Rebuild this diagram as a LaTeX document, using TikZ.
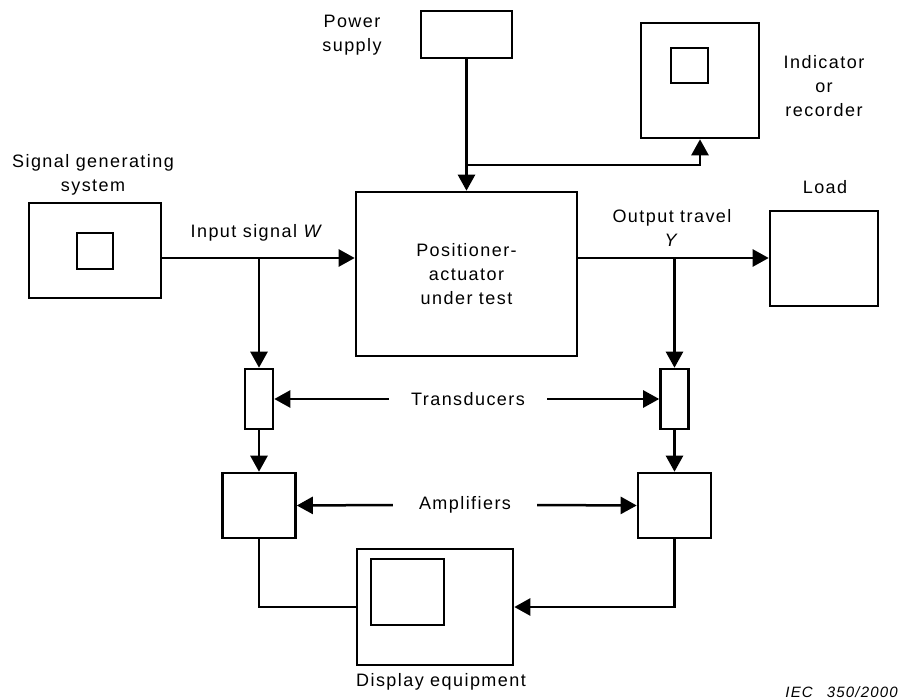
\documentclass[tikz,border=0pt]{standalone}
\usepackage{fontspec}
\setmainfont{Liberation Sans}[LetterSpace=8]
\usetikzlibrary{arrows.meta}
\newcommand{\boxLineWidth}{2.6pt}
\newcommand{\wireLineWidth}{2.5pt}
\newcommand{\labelFont}{\fontsize{18pt}{24pt}\selectfont}

\begin{document}
\begin{tikzpicture}[x=1pt,y=-1pt]
\tikzstyle{blockBox}=[draw,rectangle,line width=\boxLineWidth,inner sep=0pt]
\tikzstyle{labelText}=[align=center,inner sep=0pt,font=\labelFont]
\tikzstyle{wire}=[line width=\wireLineWidth]
\tikzstyle{wireArrow}=[wire,-{Triangle[length=16pt,width=17pt]}]
\useasboundingbox (0,0) rectangle (898,699);
\node[blockBox,minimum width=132pt,minimum height=95pt] (box-sig) at (95,250.5) {};
\node[blockBox,minimum width=36pt,minimum height=36pt] (scr-sig) at (95,251) {};
\node[labelText] (lbl-sig) at (93,175) {Signal generating\\system};
\node[blockBox,minimum width=91pt,minimum height=47pt] (box-pwr) at (466.5,34.5) {};
\node[labelText] (lbl-pwr) at (352,35) {Power\\supply};
\node[blockBox,minimum width=118pt,minimum height=115pt] (box-ind) at (700,80.5) {};
\node[blockBox,minimum width=37pt,minimum height=35pt] (scr-ind) at (689.5,65.5) {};
\node[labelText] (lbl-ind) at (824,86) {Indicator\\or\\recorder};
\node[blockBox,labelText,minimum width=221pt,minimum height=164pt] (box-dut) at (466.5,274) {Positioner-\\actuator\\under test};
\node[blockBox,minimum width=108pt,minimum height=95pt] (box-load) at (824,258.5) {};
\node[labelText] (lbl-load) at (825,187) {Load};
\node[labelText] (lbl-in) at (257,233) {Input signal \textit{W}};
\node[labelText] (lbl-out) at (672,228) {Output travel\\\textit{Y}};
\node[blockBox,minimum width=28pt,minimum height=60pt] (tr-in) at (259,399) {};
\node[blockBox,minimum width=28pt,minimum height=60pt] (tr-out) at (674.5,399) {};
\node[labelText,inner xsep=22pt] (lbl-tr) at (468,399) {Transducers};
\node[blockBox,minimum width=73pt,minimum height=65pt] (amp-in) at (259,505.5) {};
\node[blockBox,minimum width=73pt,minimum height=65pt] (amp-out) at (674.5,505.5) {};
\node[labelText,inner xsep=26pt] (lbl-amp) at (465,505) {Amplifiers};
\node[blockBox,minimum width=156pt,minimum height=116pt] (box-disp) at (435,607) {};
\node[blockBox,minimum width=73pt,minimum height=66pt] (scr-disp) at (407.5,592) {};
\node[labelText] (lbl-disp) at (441,682) {Display equipment};
\node[labelText,font=\fontsize{15pt}{18pt}\selectfont\itshape,anchor=east] (lbl-fig) at (898,692) {IEC\hspace{14pt}350/2000};
\coordinate (j-in) at (259,258);
\coordinate (j-out) at (674.5,258);
\coordinate (j-pwr) at (466.5,165);
\draw[wire] (box-sig.east |- j-in) -- (j-in);
\draw[wireArrow] (j-in) -- (box-dut.west |- j-in);
\draw[wireArrow] (j-in) -- (tr-in.north);
\draw[wire] (box-dut.east |- j-out) -- (j-out);
\draw[wireArrow] (j-out) -- (box-load.west |- j-out);
\draw[wireArrow] (j-out) -- (tr-out.north);
\draw[wire] (box-pwr.south) -- (j-pwr);
\draw[wireArrow] (j-pwr) -- (box-dut.north);
\draw[wireArrow] (j-pwr) -| (box-ind.south);
\draw[wireArrow] (lbl-tr.west) -- (tr-in.east);
\draw[wireArrow] (lbl-tr.east) -- (tr-out.west);
\draw[wireArrow] (tr-in.south) -- (amp-in.north);
\draw[wireArrow] (tr-out.south) -- (amp-out.north);
\draw[wireArrow] (lbl-amp.west) -- (amp-in.east);
\draw[wireArrow] (lbl-amp.east) -- (amp-out.west);
\draw[wire] (amp-in.south) |- (box-disp.west);
\draw[wireArrow] (amp-out.south) |- (box-disp.east);
\end{tikzpicture}
\end{document}
